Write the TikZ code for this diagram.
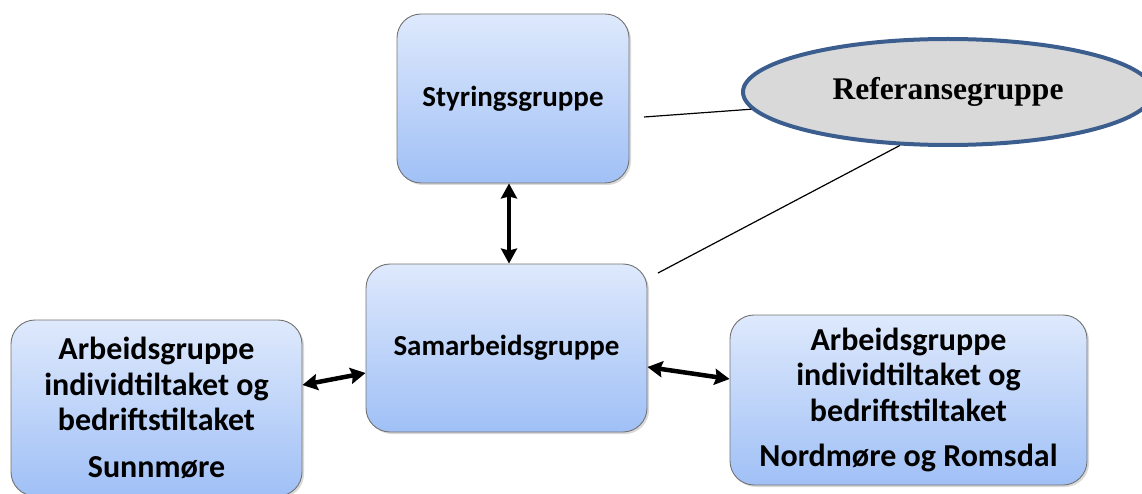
\documentclass[tikz,border=0pt]{standalone}
\usepackage{fontspec}
\setmainfont{Carlito}
\newfontfamily\timesfont{Liberation Serif}
\usetikzlibrary{arrows.meta,shapes.geometric,shadows}
\definecolor{boxtop}{RGB}{222,233,252}
\definecolor{boxbottom}{RGB}{160,192,246}
\definecolor{boxline}{RGB}{115,115,115}
\definecolor{refline}{RGB}{59,94,143}
\definecolor{reffill}{RGB}{217,217,217}
\begin{document}
\begin{tikzpicture}[x=1pt,y=-1pt,
        group/.style={draw=boxline,line width=0.9pt,rounded corners=24pt,
            top color=boxtop,bottom color=boxbottom,align=center,inner sep=0pt,
            font=\fontsize{29}{35}\selectfont\bfseries,
            drop shadow={opacity=0.3,shadow xshift=2pt,shadow yshift=-2pt}},
        local/.style={group,font=\fontsize{32}{35.5}\selectfont\bfseries},
        link/.style={{Stealth[length=15pt,width=16pt,inset=2pt]}-{Stealth[length=15pt,width=16pt,inset=2pt]},line width=4.5pt}]
        \useasboundingbox (0,0) rectangle (1142,494);
        %% Groups
        \node[group,minimum width=232pt,minimum height=169pt] (styr) at (513,98.5) {Styringsgruppe};
        \node[group,minimum width=281pt,minimum height=168pt] (samarb) at (506.5,348) {Samarbeidsgruppe};
        \node[local,minimum width=291pt,minimum height=176pt] (sunn) at (156.5,408)
            {Arbeidsgruppe\\individtiltaket og\\bedriftstiltaket\\[11pt]Sunnmøre};
        \node[local,minimum width=357pt,minimum height=170pt] (nord) at (908.5,400)
            {Arbeidsgruppe\\individtiltaket og\\bedriftstiltaket\\[10pt]Nordmøre og Romsdal};
        \node[ellipse,draw=refline,line width=4pt,fill=reffill,minimum width=410pt,minimum height=106pt,
            font=\timesfont\fontsize{31.5}{36}\selectfont\bfseries] (ref) at (948,92) {\raisebox{4pt}{Referansegruppe}};
        %% Links
        \coordinate (gap1) at (644,117);
        \coordinate (gap2) at (658,273);
        \draw[line width=1.2pt] (gap1) -- (ref.185);
        \draw[line width=1.2pt] (gap2) -- (ref.228);
        \draw[link] ([xshift=-4pt]styr.south) -- ([xshift=2.5pt]samarb.north);
        \draw[link] ([yshift=23pt]sunn.east) -- ([yshift=-25pt]samarb.west);
        \draw[link] ([yshift=-19pt]samarb.east) -- ([yshift=21pt]nord.west);
    \end{tikzpicture}
\end{document}
